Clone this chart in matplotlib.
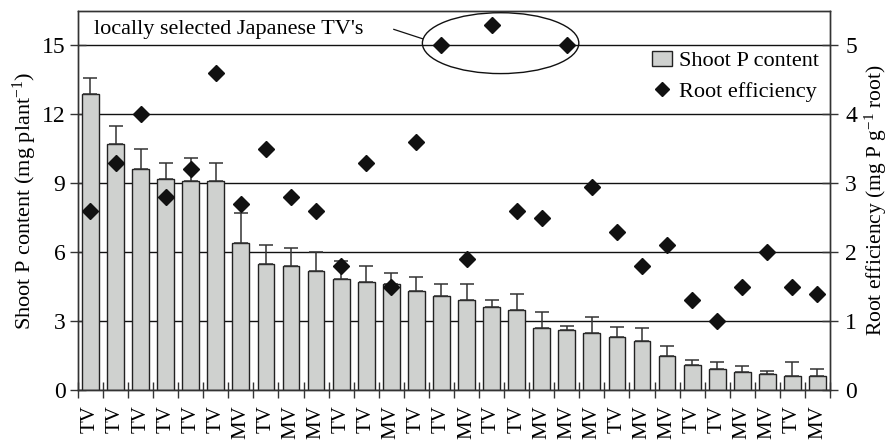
import matplotlib
matplotlib.use("Agg")
import matplotlib.pyplot as plt
import numpy as np
from matplotlib.patches import Ellipse, Patch
from matplotlib.lines import Line2D

plt.rcParams["font.family"] = ["Liberation Serif", "DejaVu Serif"]
plt.rcParams["mathtext.fontset"] = "custom"
plt.rcParams["mathtext.rm"] = "Liberation Serif"
plt.rcParams["mathtext.it"] = "Liberation Serif:italic"

# cultivar type per bar (TV = traditional, MV = modern)
varieties = ["TV", "TV", "TV", "TV", "TV", "TV", "MV", "TV", "MV", "MV",
             "TV", "TV", "MV", "TV", "TV", "MV", "TV", "TV", "MV", "MV",
             "MV", "TV", "MV", "MV", "TV", "TV", "MV", "MV", "TV", "MV"]
shoot_p = [12.9, 10.7, 9.6, 9.2, 9.1, 9.1, 6.4, 5.5, 5.4, 5.2,
           4.85, 4.7, 4.6, 4.3, 4.1, 3.9, 3.6, 3.5, 2.7, 2.6,
           2.5, 2.3, 2.15, 1.5, 1.1, 0.9, 0.8, 0.7, 0.6, 0.6]
shoot_p_err = [0.7, 0.8, 0.9, 0.7, 1.0, 0.8, 1.3, 0.8, 0.8, 0.8,
               0.75, 0.7, 0.5, 0.6, 0.5, 0.7, 0.33, 0.67, 0.68, 0.2,
               0.69, 0.43, 0.56, 0.42, 0.22, 0.31, 0.23, 0.12, 0.62, 0.3]
root_eff = [2.6, 3.3, 4.0, 2.8, 3.2, 4.6, 2.7, 3.5, 2.8, 2.6,
            1.8, 3.3, 1.5, 3.6, 5.0, 1.9, 5.3, 2.6, 2.5, 5.0,
            2.95, 2.3, 1.8, 2.1, 1.3, 1.0, 1.5, 2.0, 1.5, 1.4]

FS = 17
x = np.arange(len(shoot_p))

fig = plt.figure(figsize=(8.94, 4.43), dpi=100, facecolor="white")
ax = fig.add_axes([0.0872, 0.1196, 0.9284 - 0.0872, 0.9752 - 0.1196])
ax.set_axisbelow(True)

ax.bar(x, shoot_p, width=0.67, color="#cfd1cf", edgecolor="#222222", linewidth=1.0, zorder=2)
ax.errorbar(x, shoot_p, yerr=[np.zeros(len(x)), shoot_p_err], fmt="none",
            ecolor="#333333", elinewidth=1.1, capsize=5, capthick=1.1, zorder=3)

ax.set_xlim(-0.5, len(x) - 0.5)
ax.set_ylim(0, 16.5)
ax.set_yticks([0, 3, 6, 9, 12, 15])
ax.yaxis.grid(True, color="#111111", linewidth=1.0)
ax.set_xticks(np.arange(-0.5, len(x), 1.0))
ax.set_xticklabels([])
ax.set_xticks(x, minor=True)
ax.set_xticklabels(varieties, minor=True, rotation=90, fontsize=FS - 2)
ax.tick_params(axis="x", which="major", direction="inout", length=12, width=1, color="#333333")
ax.tick_params(axis="x", which="minor", length=0, pad=11)
ax.tick_params(axis="y", direction="inout", length=12, width=1, color="#333333", labelsize=FS, pad=3)
ax.set_ylabel("Shoot P content (mg plant$^{-1}$)", fontsize=FS - 1, labelpad=2)
for sp in ax.spines.values():
    sp.set_color("#333333")
    sp.set_linewidth(1.0)

ax2 = ax.twinx()
ax2.plot(x, root_eff, linestyle="none", marker="D", markersize=8, color="#111111", zorder=4)
ax2.set_ylim(0, 5.5)
ax2.set_yticks([0, 1, 2, 3, 4, 5])
ax2.tick_params(axis="y", direction="inout", length=12, width=1, color="#333333", labelsize=FS, pad=5)
ax2.set_ylabel("Root efficiency (mg P g$^{-1}$ root)", fontsize=FS - 1.5, labelpad=4)
for sp in ax2.spines.values():
    sp.set_color("#333333")
    sp.set_linewidth(1.0)

# annotation for the locally selected varieties
ax.text(0.14, 15.7, "locally selected Japanese TV's", fontsize=FS - 1, va="center", ha="left", zorder=5)
ax.plot([12.1, 13.25], [15.7, 15.29], color="#111111", linewidth=0.9, zorder=5)
ax.add_patch(Ellipse((16.36, 15.1), 6.24, 2.65, fill=False, edgecolor="#111111",
                     linewidth=1.0, zorder=5, clip_on=False))

handles = [Patch(facecolor="#cfd1cf", edgecolor="#222222", linewidth=1.0),
           Line2D([], [], linestyle="none", marker="D", markersize=7, color="#111111")]
ax2.legend(handles, ["Shoot P content", "Root efficiency"], loc="upper right",
           bbox_to_anchor=(1.003, 0.93), frameon=False, fontsize=FS - 1,
           handlelength=0.9, handletextpad=0.3, labelspacing=0.45, borderaxespad=0.2)

fig.savefig("out.png", dpi=100, facecolor="white")
